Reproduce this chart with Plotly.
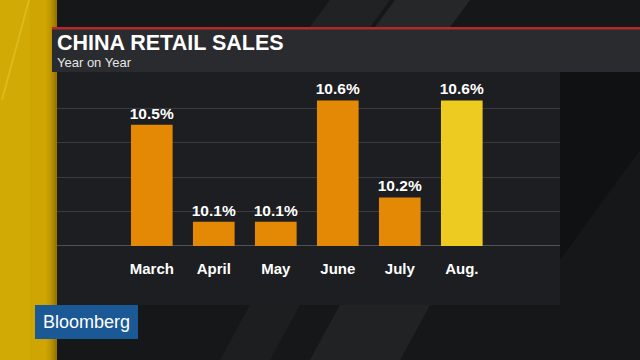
import plotly.graph_objects as go

months = ["March", "April", "May", "June", "July", "Aug."]
retail_yoy = [10.5, 10.1, 10.1, 10.6, 10.2, 10.6]
bar_colors = ["#E38906", "#E38906", "#E38906", "#E38906", "#E38906", "#EDCB21"]

title_text = "CHINA RETAIL SALES"
subtitle_text = "Year on Year"
logo_text = "Bloomberg"

FW, FH = 640, 360
L, R, T, B = 57, 80, 80, 114
W, H = FW - L - R, FH - T - B


def fx(px):
    return (px - L) / W


def fy(py):
    return 1 - (py - T) / H


fig = go.Figure()
fig.add_trace(go.Bar(
    x=months,
    y=retail_yoy,
    marker=dict(color=bar_colors, line=dict(width=0)),
    width=0.672,
    texttemplate="%{y:.1f}%",
    textposition="outside",
    constraintext="none",
    cliponaxis=False,
    textfont=dict(family="Liberation Sans, Arial, sans-serif", size=15.5, color="white", weight="bold"),
    hoverinfo="skip",
))

shapes = []


def rect(x0, y0, x1, y1, color):
    shapes.append(dict(type="rect", xref="paper", yref="paper",
                       x0=fx(x0), x1=fx(x1), y0=fy(y1), y1=fy(y0),
                       fillcolor=color, line=dict(width=0), layer="below"))


def poly(pts, color):
    path = "M " + " L ".join(f"{fx(px)},{fy(py)}" for px, py in pts) + " Z"
    shapes.append(dict(type="path", xref="paper", yref="paper", path=path,
                       fillcolor=color, line=dict(width=0), layer="below"))


# background
rect(0, 0, 640, 360, "#161719")
# diagonal streaks
poly([(330, 0), (390, 0), (370, 27), (310, 27)], "rgba(255,255,255,0.05)")
poly([(395, 0), (470, 0), (450, 27), (375, 27)], "rgba(255,255,255,0.07)")
poly([(250, 305), (300, 305), (270, 360), (220, 360)], "rgba(255,255,255,0.03)")
poly([(340, 305), (430, 305), (400, 360), (310, 360)], "rgba(255,255,255,0.05)")
poly([(560, 72), (640, 72), (640, 150), (560, 260)], "rgba(0,0,0,0.25)")
# yellow strip with soft shadow toward the right edge
rect(0, 0, 57, 360, "#CFA501")
rect(0, 0, 30, 360, "rgba(255,225,60,0.08)")
for i, a in enumerate([0.05, 0.08, 0.11, 0.15, 0.2, 0.25]):
    rect(46 + i * 1.8, 0, 57, 360, f"rgba(80,55,0,{a * 0.6:.3f})")
poly([(28, 0), (30, 0), (3, 100), (1, 100)], "rgba(255,230,90,0.25)")
# header panel
rect(52, 27, 640, 72, "#2A2B2E")
rect(52, 27, 640, 29.5, "#B3282A")
# chart panel
rect(57, 72, 560, 305, "#1D1E21")
# logo box
rect(35, 305, 138, 339, "#1B5896")

fig.update_layout(
    width=FW, height=FH,
    margin=dict(l=L, r=R, t=T, b=B),
    paper_bgcolor="#161719",
    plot_bgcolor="rgba(0,0,0,0)",
    showlegend=False,
    shapes=shapes,
    xaxis=dict(
        range=[-1.529, 6.584],
        showgrid=False, zeroline=False, showline=False,
        ticks="", ticklabelstandoff=12,
        tickfont=dict(family="Liberation Sans, Arial, sans-serif", size=15, color="white", weight="bold"),
        fixedrange=True,
    ),
    yaxis=dict(
        range=[10.0, 10.0 + H / 242.6],
        tick0=10.0, dtick=0.1418,
        showgrid=True, gridcolor="#3A3B3F", gridwidth=1,
        zeroline=False, showline=False,
        showticklabels=False, ticks="",
        fixedrange=True,
    ),
    annotations=[
        dict(text=title_text, xref="paper", yref="paper", x=fx(56), y=fy(43),
             xanchor="left", yanchor="middle", showarrow=False, borderpad=0,
             font=dict(family="Liberation Sans, Arial, sans-serif", size=21.5, color="white", weight="bold")),
        dict(text=subtitle_text, xref="paper", yref="paper", x=fx(56), y=fy(62.5),
             xanchor="left", yanchor="middle", showarrow=False, borderpad=0,
             font=dict(family="Liberation Sans, Arial, sans-serif", size=13, color="#E6E6E6")),
        dict(text=logo_text, xref="paper", yref="paper", x=fx(86.5), y=fy(322),
             xanchor="center", yanchor="middle", showarrow=False,
             font=dict(family="Liberation Sans, Arial, sans-serif", size=18, color="white")),
    ],
)

# baseline
fig.add_shape(type="line", xref="paper", yref="y", x0=0, x1=1, y0=10.0, y1=10.0,
              line=dict(color="#505155", width=2), layer="below")

fig.write_html("out.html", config={"displayModeBar": False},
               post_script="document.body.style.margin='0';document.body.style.overflow='hidden';")
